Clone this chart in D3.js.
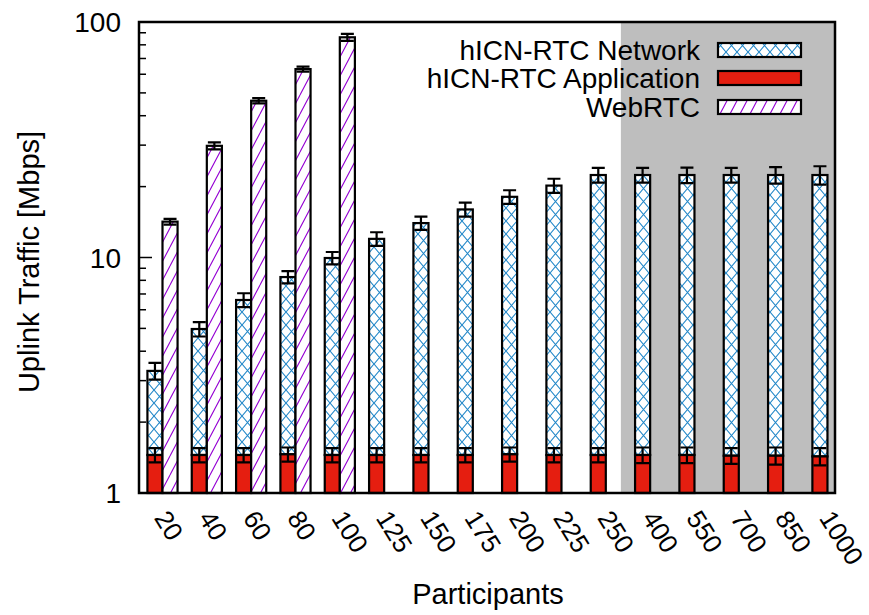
<!DOCTYPE html>
<html>
<head>
<meta charset="utf-8">
<script src="https://cdn.jsdelivr.net/npm/d3@7"></script>
<style>
  html, body { margin: 0; padding: 0; background: #fff; }
  svg { display: block; font-family: "Liberation Sans", Arial, Helvetica, sans-serif; }
</style>
</head>
<body>
<svg id="chart" width="869" height="615"></svg>
<script>
// Participants per conference (x categories)
const participants = ["20","40","60","80","100","125","150","175","200","225","250","400","550","700","850","1000"];

// hICN-RTC application traffic (Mbps) and its error
const appTraffic = [1.45,1.45,1.45,1.46,1.45,1.45,1.45,1.45,1.46,1.45,1.45,1.45,1.45,1.44,1.44,1.43];
const appErr     = [0.10,0.10,0.10,0.10,0.10,0.10,0.10,0.10,0.10,0.10,0.10,0.11,0.11,0.11,0.12,0.12];

// hICN-RTC network traffic, stacked total (Mbps) and its error
const netTotal = [3.30,4.97,6.60,8.26,9.95,12.0,14.0,16.0,18.1,20.2,22.4,22.4,22.4,22.4,22.4,22.4];
const netErr   = [0.27,0.35,0.45,0.50,0.60,0.80,0.90,1.10,1.20,1.40,1.60,1.60,1.70,1.60,1.80,2.00];

// WebRTC traffic (Mbps), only measured up to 100 participants
const webrtc    = [14.2,29.8,46.3,63.1,86.1];
const webrtcErr = [0.40,1.00,1.20,1.50,3.00];

// y axis tick labels
const yTickValues = [1, 10, 100];

// legend entries
const legendLabels = ["hICN-RTC Network", "hICN-RTC Application", "WebRTC"];

const svg = d3.select("#chart");
const plotL = 139, plotR = 835, plotT = 22, plotB = 493;

const x = d3.scaleLinear().domain([-0.53, 15.17]).range([plotL, plotR]);
const y = d3.scaleLog().domain([1, 100]).range([plotB, plotT]);

const barW = 0.34;       // bar width in category units
const capW = 13;         // error bar cap width in px
const grayStart = 10.34; // shaded region starts after the 250 cluster

const RED = "#e51e10", BLUE = "#1f86c8", PURPLE = "#9400d3";

// fill patterns
const defs = svg.append("defs");
const cross = defs.append("pattern").attr("id", "cross")
  .attr("patternUnits", "userSpaceOnUse").attr("width", 11).attr("height", 13);
cross.append("rect").attr("width", 11).attr("height", 13).attr("fill", "#fff");
cross.append("path").attr("d", "M0,0L11,13M11,0L0,13")
  .attr("stroke", BLUE).attr("stroke-width", 1.1).attr("fill", "none");

const diag = defs.append("pattern").attr("id", "diag")
  .attr("patternUnits", "userSpaceOnUse").attr("width", 10).attr("height", 19);
diag.append("rect").attr("width", 10).attr("height", 19).attr("fill", "#fff");
diag.append("path").attr("d", "M0,19L10,0M-10,19L0,0M10,19L20,0")
  .attr("stroke", PURPLE).attr("stroke-width", 1.1).attr("fill", "none");

// shaded region
svg.append("rect")
  .attr("x", x(grayStart)).attr("y", plotT)
  .attr("width", plotR - x(grayStart)).attr("height", plotB - plotT)
  .attr("fill", "#bebebe");

const idx = d3.range(participants.length);
const g = svg.append("g");

// network segment (stacked above application)
g.selectAll("rect.net").data(idx).join("rect").attr("class", "net")
  .attr("x", i => x(i - barW)).attr("width", x(barW) - x(0))
  .attr("y", i => y(netTotal[i])).attr("height", i => y(appTraffic[i]) - y(netTotal[i]))
  .attr("fill", "url(#cross)").attr("stroke", "#000").attr("stroke-width", 2.2);

// application segment
g.selectAll("rect.app").data(idx).join("rect").attr("class", "app")
  .attr("x", i => x(i - barW)).attr("width", x(barW) - x(0))
  .attr("y", i => y(appTraffic[i])).attr("height", i => plotB - y(appTraffic[i]))
  .attr("fill", RED).attr("stroke", "#000").attr("stroke-width", 2.2);

// WebRTC bars
const widx = d3.range(webrtc.length);
g.selectAll("rect.web").data(widx).join("rect").attr("class", "web")
  .attr("x", i => x(i)).attr("width", x(barW) - x(0))
  .attr("y", i => y(webrtc[i])).attr("height", i => plotB - y(webrtc[i]))
  .attr("fill", "url(#diag)").attr("stroke", "#000").attr("stroke-width", 2.2);

// error bars
function errorBar(cx, v, e) {
  const y1 = y(v + e), y2 = y(v - e);
  const p = `M${cx},${y1}L${cx},${y2}M${cx - capW/2},${y1}L${cx + capW/2},${y1}M${cx - capW/2},${y2}L${cx + capW/2},${y2}`;
  g.append("path").attr("d", p).attr("stroke", "#000").attr("stroke-width", 2.2).attr("fill", "none");
}
idx.forEach(i => {
  const cx = x(i - barW / 2);
  errorBar(cx, appTraffic[i], appErr[i]);
  errorBar(cx, netTotal[i], netErr[i]);
});
widx.forEach(i => errorBar(x(i + barW / 2), webrtc[i], webrtcErr[i]));

// y axis ticks (inward)
const minor = [];
[1, 10].forEach(d => { for (let k = 2; k <= 9; k++) minor.push(d * k); });
svg.append("g").selectAll("line.minor").data(minor).join("line")
  .attr("x1", plotL).attr("x2", plotL + 7).attr("y1", d => y(d)).attr("y2", d => y(d))
  .attr("stroke", "#000").attr("stroke-width", 1.5);
svg.append("g").selectAll("line.major").data(yTickValues).join("line")
  .attr("x1", plotL).attr("x2", plotL + 13).attr("y1", d => y(d)).attr("y2", d => y(d))
  .attr("stroke", "#000").attr("stroke-width", 1.5);
svg.append("g").selectAll("text").data(yTickValues).join("text")
  .attr("x", 121).attr("y", d => y(d) + 10)
  .attr("text-anchor", "end").attr("font-size", 28).text(d => d3.format("d")(d));

// frame
svg.append("rect").attr("x", plotL).attr("y", plotT).attr("width", plotR - plotL).attr("height", plotB - plotT)
  .attr("fill", "none").attr("stroke", "#000").attr("stroke-width", 2.5);

// x tick labels, rotated
svg.append("g").selectAll("text").data(idx).join("text")
  .attr("transform", i => `translate(${x(i) - 9},518) rotate(58)`)
  .attr("font-size", 26).text(i => participants[i]);

// axis titles
svg.append("text").attr("x", 488).attr("y", 604).attr("text-anchor", "middle")
  .attr("font-size", 29).text("Participants");
svg.append("text").attr("transform", "translate(39,262) rotate(-90)")
  .attr("text-anchor", "middle").attr("font-size", 29).text("Uplink Traffic [Mbps]");

// legend
const legFills = ["url(#cross)", RED, "url(#diag)"];
const legY = [50, 78, 107];
const leg = svg.append("g");
legendLabels.forEach((lab, k) => {
  leg.append("text").attr("x", 700).attr("y", legY[k] + 10).attr("text-anchor", "end")
    .attr("font-size", 28).text(lab);
  leg.append("rect").attr("x", 718).attr("y", legY[k] - 7).attr("width", 83).attr("height", 14)
    .attr("fill", legFills[k]).attr("stroke", "#000").attr("stroke-width", 2.2);
});
</script>
</body>
</html>
